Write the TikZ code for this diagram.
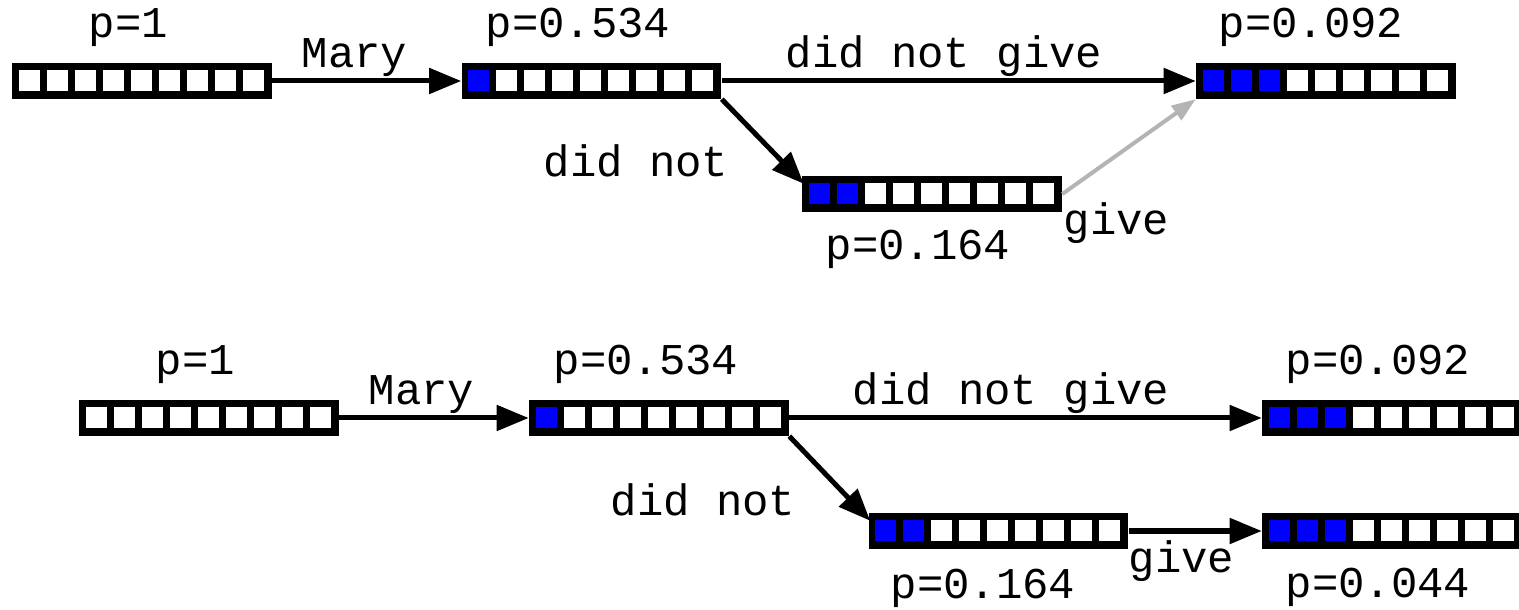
\documentclass[tikz,border=0pt]{standalone}
\usepackage{fontspec}
\setmonofont{Liberation Mono}
\usetikzlibrary{arrows.meta,calc}
\definecolor{cellblue}{RGB}{0,0,255}
\definecolor{arrowgray}{RGB}{180,180,180}

% a row of nine cells, the first #3 of them filled in blue
\newcommand{\cellrow}[3]{%
  \node[cellbar] (#1) at (#2) {};
  \foreach \i in {1,...,9}{%
    \ifnum\i>#3 \def\cellfill{white}\else\def\cellfill{cellblue}\fi
    \fill[\cellfill] ($(#1.north west)+(28*\i-21,7)$) rectangle +(21,21);
  }%
}

\begin{document}
\begin{tikzpicture}[x=0.01cm,y=-0.01cm,
  cellbar/.style={rectangle,fill=black,minimum width=2.59cm,minimum height=0.35cm,inner sep=0pt},
  lbl/.style={anchor=base west,inner sep=0pt,font=\ttfamily\fontsize{12.5}{15}\selectfont},
  flow/.style={draw=black,line width=0.05cm,-{Triangle[length=0.32cm,width=0.25cm]}},
  faint/.style={draw=arrowgray,line width=0.04cm,-{Triangle[length=0.24cm,width=0.17cm]}}]
\clip (0,0) rectangle (1519,610);

% upper run
\cellrow{s0}{142,81}{0}
\cellrow{s1}{591.5,81}{1}
\cellrow{s3}{1326,81}{3}
\cellrow{s2}{932,194}{2}
\node[lbl] (ps0) at (88,38) {p=1};
\node[lbl] (ps1) at (485,38) {p=0.534};
\node[lbl] (ps3) at (1218,38) {p=0.092};
\node[lbl] (ps2) at (825,260) {p=0.164};
\node[lbl] (wmary) at (301,68) {Mary};
\node[lbl] (wdng) at (785,68) {did not give};
\node[lbl] (wdn) at (543,177) {did not};
\node[lbl] (wgive) at (1063,235) {give};
\draw[flow] (s0) -- (s1);
\draw[flow] (s1) -- (s3);
\draw[flow] (s1.south east) -- ($(s2.north west)+(2,8)$);
\draw[faint] (s2.east) -- (s3.south west);

% lower run
\cellrow{t0}{209,418}{0}
\cellrow{t1}{659,418}{1}
\cellrow{t3}{1392,418}{3}
\cellrow{t2}{998.5,531}{2}
\cellrow{t4}{1392,531}{3}
\node[lbl] (pt0) at (155,375) {p=1};
\node[lbl] (pt1) at (553,375) {p=0.534};
\node[lbl] (pt3) at (1285,375) {p=0.092};
\node[lbl] (pt2) at (890,598) {p=0.164};
\node[lbl] (pt4) at (1285,597) {p=0.044};
\node[lbl] (vmary) at (368,405) {Mary};
\node[lbl] (vdng) at (852,405) {did not give};
\node[lbl] (vdn) at (610,515) {did not};
\node[lbl] (vgive) at (1128,572) {give};
\draw[flow] (t0) -- (t1);
\draw[flow] (t1) -- (t3);
\draw[flow] (t1.south east) -- ($(t2.north west)+(2,8)$);
\draw[flow] (t2) -- (t4);
\end{tikzpicture}
\end{document}
